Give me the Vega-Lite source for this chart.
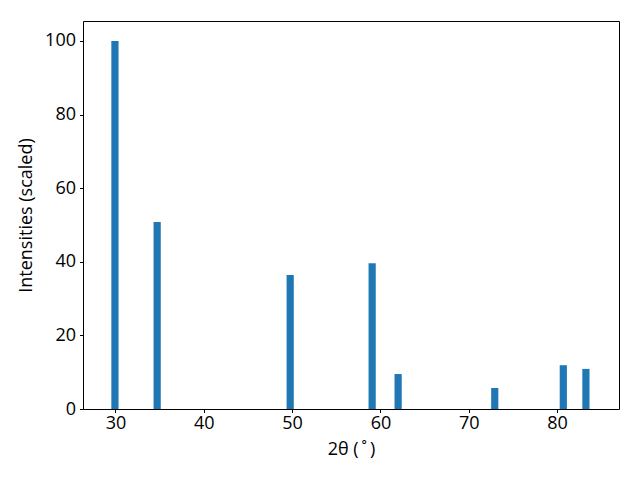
{
  "$schema": "https://vega.github.io/schema/vega-lite/v6.json",
  "width": 536,
  "height": 388,
  "autosize": "none",
  "padding": {"left": 83, "top": 21, "right": 21, "bottom": 71},
  "background": "white",
  "config": {
    "view": {"stroke": "black", "strokeWidth": 1}
  },
  "data": {
    "values": [
      {"two_theta": 29.94, "intensity": 100},
      {"two_theta": 34.72, "intensity": 50.8},
      {"two_theta": 49.78, "intensity": 36.4},
      {"two_theta": 59.06, "intensity": 39.6},
      {"two_theta": 62.0, "intensity": 9.5},
      {"two_theta": 72.94, "intensity": 5.7},
      {"two_theta": 80.7, "intensity": 11.9},
      {"two_theta": 83.26, "intensity": 10.9}
    ]
  },
  "mark": {"type": "bar", "size": 7.2, "color": "#1f77b4", "clip": true},
  "encoding": {
    "x": {
      "field": "two_theta",
      "type": "quantitative",
      "scale": {"domain": [26.89, 86.44], "nice": false, "zero": false},
      "axis": {
        "values": [30, 40, 50, 60, 70, 80],
        "title": "2θ (\u2009˚\u2009)",
        "titlePadding": 8,
        "labelFont": "Open Sans", "titleFont": "Open Sans",
        "labelFontSize": 18, "titleFontSize": 18,
        "labelColor": "black", "titleColor": "black", "titleFontWeight": "normal",
        "tickColor": "black", "tickSize": 3.5, "labelPadding": 2,
        "domain": false, "grid": false
      }
    },
    "y": {
      "field": "intensity",
      "type": "quantitative",
      "scale": {"domain": [0, 105.43], "nice": false},
      "axis": {
        "values": [0, 20, 40, 60, 80, 100],
        "title": "Intensities (scaled)",
        "titlePadding": 9,
        "labelFont": "Open Sans", "titleFont": "Open Sans",
        "labelFontSize": 18, "titleFontSize": 18,
        "labelColor": "black", "titleColor": "black", "titleFontWeight": "normal",
        "tickColor": "black", "tickSize": 3.5, "labelPadding": 4,
        "domain": false, "grid": false
      }
    }
  }
}
